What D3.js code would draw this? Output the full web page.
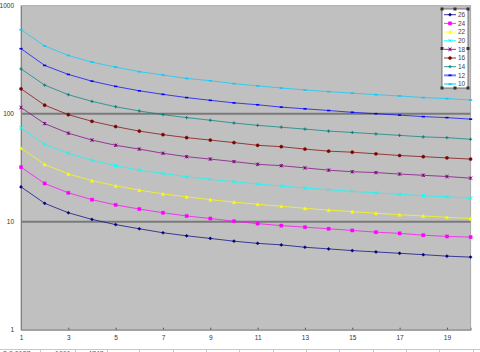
<!DOCTYPE html>
<html>
<head>
<meta charset="utf-8">
<script src="https://cdn.jsdelivr.net/npm/d3@7"></script>
<style>
  body { margin: 0; background: #fff; }
  svg { display: block; font-family: "Liberation Sans", Arial, sans-serif; }
</style>
</head>
<body>
<div id="chart"></div>
<script>
const xValues = [1, 2, 3, 4, 5, 6, 7, 8, 9, 10, 11, 12, 13, 14, 15, 16, 17, 18, 19, 20];
const xTickLabels = [1, 3, 5, 7, 9, 11, 13, 15, 17, 19];
const yTickLabels = [1, 10, 100, 1000];
const gridValues = [10, 100];

const seriesNames = ["26", "24", "22", "20", "18", "16", "14", "12", "10"];
const seriesColors = ["#000080", "#ff00ff", "#ffff00", "#00ffff", "#800080", "#800000", "#008080", "#0000ff", "#00ccff"];
const seriesMarkers = ["diamond", "square", "triangle", "x", "star", "circle", "plus", "dash", "dash"];

const s26 = [21, 14.8, 12.1, 10.5, 9.4, 8.6, 7.9, 7.4, 7.0, 6.6, 6.3, 6.1, 5.8, 5.6, 5.4, 5.25, 5.1, 4.95, 4.8, 4.7];
const s24 = [32, 22.6, 18.5, 16, 14.3, 13.1, 12.1, 11.3, 10.7, 10.1, 9.6, 9.2, 8.9, 8.6, 8.3, 8.0, 7.8, 7.5, 7.3, 7.2];
const s22 = [48, 34, 27.7, 24, 21.5, 19.6, 18.1, 17, 16, 15.2, 14.5, 13.9, 13.3, 12.8, 12.4, 12, 11.6, 11.3, 11, 10.7];
const s20 = [74, 52, 43, 37, 33, 30, 28, 26, 24.7, 23.4, 22.3, 21.4, 20.5, 19.8, 19.1, 18.5, 17.9, 17.4, 17, 16.5];
const s18 = [114, 81, 66, 57, 51, 47, 43, 40, 38, 36, 34, 33, 31.5, 30, 29, 28.5, 27.6, 26.9, 26.2, 25.3];
const s16 = [170, 120, 98, 85, 76, 69, 64, 60, 57, 54, 51, 49.5, 47, 45, 44, 42.5, 41, 40, 39, 38];
const s14 = [260, 184, 150, 130, 116, 106, 98, 92, 87, 82, 78, 75, 72, 69, 67, 65, 63, 61, 60, 58];
const s12 = [400, 280, 231, 200, 179, 163, 151, 141, 133, 126, 121, 115, 111, 107, 103, 100, 97, 94, 92, 89];
const s10 = [600, 424, 346, 300, 270, 245, 228, 212, 202, 190, 181, 173, 166, 160, 155, 150, 146, 141, 138, 134];

const seriesValues = [s26, s24, s22, s20, s18, s16, s14, s12, s10];

const W = 480, H = 352;
const plot = { left: 21, right: 470.6, top: 5.7, bottom: 329.7 };

const svg = d3.select("#chart").append("svg")
  .attr("width", W)
  .attr("height", H);

const xScale = d3.scaleLinear().domain([1, 20]).range([plot.left, plot.right]);
const yScale = d3.scaleLog().domain([1, 1000]).range([plot.bottom, plot.top]);

// plot area
svg.append("rect")
  .attr("x", plot.left)
  .attr("y", plot.top)
  .attr("width", plot.right - plot.left)
  .attr("height", plot.bottom - plot.top)
  .attr("fill", "#c0c0c0")
  .attr("stroke", "#a8a8a8")
  .attr("stroke-width", 1);

svg.append("g")
  .selectAll("line")
  .data(gridValues)
  .join("line")
    .attr("x1", plot.left)
    .attr("x2", plot.right)
    .attr("y1", d => yScale(d))
    .attr("y2", d => yScale(d))
    .attr("stroke", "#7a7a7a")
    .attr("stroke-width", 2);

// axes
const xAxis = svg.append("g")
  .attr("transform", `translate(0,${plot.bottom})`)
  .call(d3.axisBottom(xScale).tickValues(xTickLabels).tickSize(-2).tickPadding(6).tickFormat(d3.format("d")));
xAxis.select(".domain").attr("stroke", "#808080");
xAxis.selectAll(".tick line").attr("stroke", "#555");
xAxis.selectAll("text").attr("font-size", 6.5).attr("fill", "#333").attr("font-family", "Liberation Sans, Arial, sans-serif");

const yAxis = svg.append("g")
  .attr("transform", `translate(${plot.left},0)`)
  .call(d3.axisLeft(yScale).tickValues(yTickLabels).tickSize(0).tickPadding(7).tickFormat(d3.format("d")));
yAxis.select(".domain").attr("stroke", "#808080");
yAxis.selectAll("text").attr("font-size", 6.5).attr("fill", "#333").attr("font-family", "Liberation Sans, Arial, sans-serif");

function markerPath(type, r) {
  switch (type) {
    case "diamond": return `M0,${-r}L${r},0L0,${r}L${-r},0Z`;
    case "square": return `M${-r},${-r}H${r}V${r}H${-r}Z`;
    case "triangle": return `M0,${-r}L${r},${r}L${-r},${r}Z`;
    case "x": return `M${-r},${-r}L${r},${r}M${-r},${r}L${r},${-r}`;
    case "star": return `M${-r},${-r}L${r},${r}M${-r},${r}L${r},${-r}M0,${-r}V${r}`;
    case "circle": return d3.symbol(d3.symbolCircle, Math.PI * r * r)();
    case "plus": return `M${-r},0H${r}M0,${-r}V${r}`;
    case "dash": return `M${-r},0H${r}`;
  }
}

function drawMarker(sel, type, color, r) {
  const filled = ["diamond", "square", "triangle", "circle"].includes(type);
  sel.attr("d", markerPath(type, r))
    .attr("fill", filled ? color : "none")
    .attr("stroke", color)
    .attr("stroke-width", type === "dash" ? 1.6 : (filled ? 0.4 : 1));
}

const line = d3.line()
  .x((d, i) => xScale(xValues[i]))
  .y(d => yScale(d));

seriesValues.forEach((vals, k) => {
  const g = svg.append("g");
  g.append("path")
    .attr("d", line(vals))
    .attr("fill", "none")
    .attr("stroke", seriesColors[k])
    .attr("stroke-width", 1)
    .attr("opacity", 0.7);
  g.selectAll("path.mk")
    .data(vals)
    .join("path")
      .attr("class", "mk")
      .attr("transform", (d, i) => `translate(${xScale(xValues[i])},${yScale(d)})`)
      .call(drawMarker, seriesMarkers[k], seriesColors[k], 1.6);
});

// legend
const leg = { x: 442, y: 9, w: 26, h: 79 };
const legend = svg.append("g");
legend.append("rect")
  .attr("x", leg.x)
  .attr("y", leg.y)
  .attr("width", leg.w)
  .attr("height", leg.h)
  .attr("fill", "#fff")
  .attr("stroke", "#555")
  .attr("stroke-width", 0.8);

const rowY = d3.scalePoint().domain(seriesNames).range([leg.y + 5.7, leg.y + 75]);
const items = legend.selectAll("g.item")
  .data(seriesNames)
  .join("g")
    .attr("class", "item")
    .attr("transform", d => `translate(0,${rowY(d)})`);

items.append("line")
  .attr("x1", leg.x + 2)
  .attr("x2", leg.x + 14)
  .attr("stroke", (d, i) => seriesColors[i])
  .attr("stroke-width", (d, i) => seriesMarkers[i] === "dash" ? 2 : 1)
  .attr("opacity", (d, i) => seriesMarkers[i] === "dash" ? 0.5 : 0.8);
items.append("path")
  .attr("transform", `translate(${leg.x + 8},0)`)
  .each(function(d, i) {
    d3.select(this).call(drawMarker, seriesMarkers[i], seriesColors[i], 1.6);
  });
items.append("text")
  .attr("x", leg.x + 16)
  .attr("y", 2.2)
  .attr("font-size", 6.5)
  .attr("fill", "#444")
  .text(d => d);

// selection handles round the legend
const handles = [
  [0, 0], [0.5, 0], [1, 0],
  [0, 0.5], [1, 0.5],
  [0, 1], [0.5, 1], [1, 1]
];
legend.selectAll("rect.handle")
  .data(handles)
  .join("rect")
    .attr("class", "handle")
    .attr("x", d => leg.x + d[0] * leg.w - 1.5)
    .attr("y", d => leg.y + d[1] * leg.h - 1.5)
    .attr("width", 3)
    .attr("height", 3)
    .attr("fill", "#333");

// spreadsheet strip peeking below the chart
const sheetCols = [40, 75, 107, 139, 173, 206, 239, 273, 306, 339, 373, 406, 439, 473];
const sheetTexts = [{ x: 3, t: "8" }, { x: 9, t: "0.0127" }, { x: 55, t: "1661" }, { x: 88, t: "4748" }];
svg.append("line")
  .attr("x1", 0).attr("x2", W)
  .attr("y1", 349.5).attr("y2", 349.5)
  .attr("stroke", "#c8c8c8");
svg.append("g").selectAll("line")
  .data(sheetCols)
  .join("line")
    .attr("x1", d => d + 0.5).attr("x2", d => d + 0.5)
    .attr("y1", 349.5).attr("y2", H)
    .attr("stroke", "#c8c8c8");
svg.append("g").selectAll("text")
  .data(sheetTexts)
  .join("text")
    .attr("x", d => d.x)
    .attr("y", 356)
    .attr("font-size", 7)
    .attr("fill", "#555")
    .text(d => d.t);
</script>
</body>
</html>
